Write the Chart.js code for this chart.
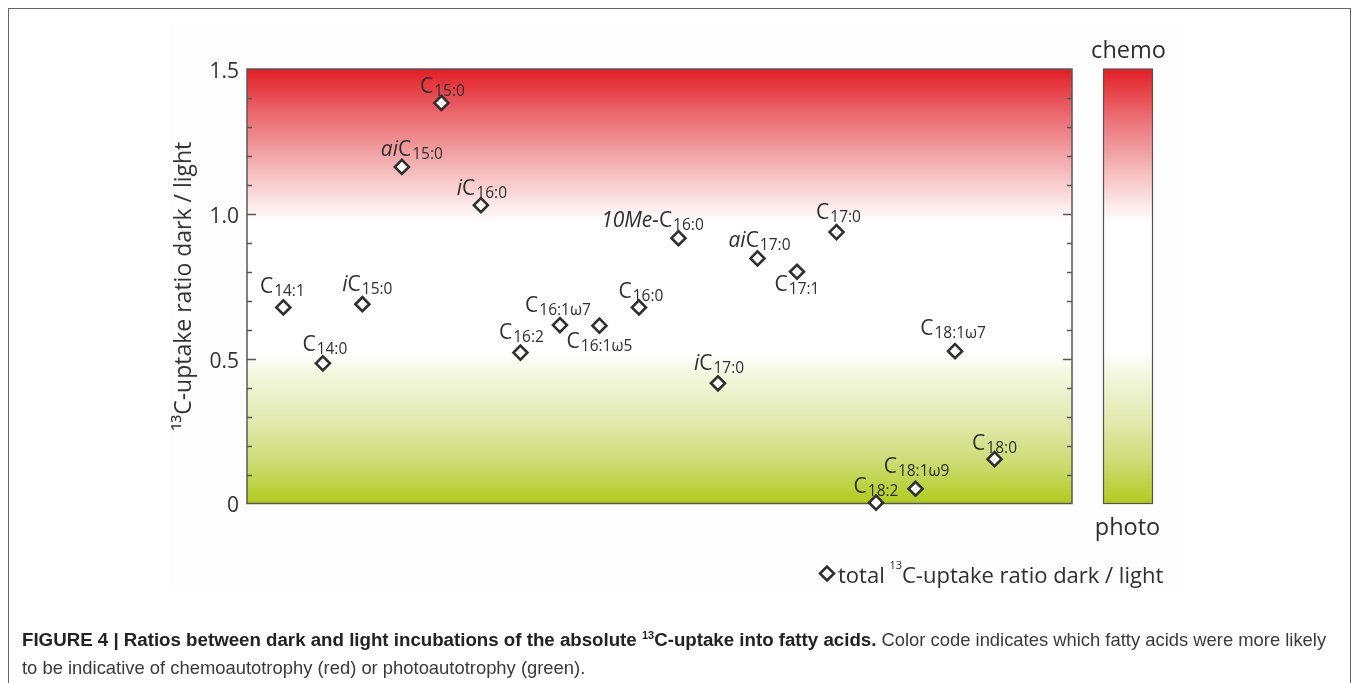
<!DOCTYPE html>
<html>
<head>
<meta charset="utf-8">
<script src="https://cdn.jsdelivr.net/npm/chart.js@4/dist/chart.umd.min.js"></script>
<style>
  html, body { margin: 0; padding: 0; background: #fff; width: 1357px; height: 683px; overflow: hidden; }
  #frame { position: absolute; left: 8px; top: 8px; width: 1343px; height: 720px; border: 1.5px solid #666; box-sizing: border-box; }
  #wrap { position: absolute; left: 0; top: 0; width: 1357px; height: 683px; }
  #caption { position: absolute; left: 22px; top: 627px; font-family: "Liberation Sans", Arial, sans-serif; font-size: 18.4px; line-height: 26px; color: #3a3a3a; white-space: nowrap; }
  #caption b { color: #222; font-size: 18.7px; }
  #caption .sup { font-size: 11px; position: relative; top: -7px; }
</style>
</head>
<body>
<div id="frame"></div>
<div id="wrap"><canvas id="chart"></canvas></div>
<div id="caption"><b>FIGURE 4 | Ratios between dark and light incubations of the absolute <span class="sup">13</span>C-uptake into fatty acids.</b> Color code indicates which fatty acids were more likely<br>to be indicative of chemoautotrophy (red) or photoautotrophy (green).</div>
<script>
// Fatty acids, in plotting order along the x axis
const acidPrefixes = ['', '', 'i', 'ai', '', 'i', '', '', '', '', '10Me-', 'i', 'ai', '', '', '', '', '', ''];
const acidChains   = ['14:1', '14:0', '15:0', '15:0', '15:0', '16:0', '16:2', '16:1ω7', '16:1ω5', '16:0',
                      '16:0', '17:0', '17:0', '17:1', '17:0', '18:2', '18:1ω9', '18:1ω7', '18:0'];
const acidOrder    = [1, 2, 3, 4, 5, 6, 7, 8, 9, 10, 11, 12, 13, 14, 15, 16, 17, 18, 19];

// Total 13C-uptake ratio dark / light for each fatty acid
const ratioDarkLight = [0.677, 0.484, 0.688, 1.162, 1.383, 1.030, 0.521, 0.616, 0.614, 0.677,
                        0.916, 0.415, 0.846, 0.800, 0.937, 0.003, 0.051, 0.526, 0.153];

// Labelled y ticks and minor tick spacing
const yTickValues = [0, 0.5, 1.0, 1.5];
const yMinorStep = 0.1;

// Where each name sits relative to its marker: [dx of text centre, dy of baseline]
const labelPlacement = [
  [-1, -14], [2, -12.5], [5, -13], [10, -11], [1, -9.5], [1, -10.5], [1, -13.5], [-2, -13.5],
  [0, 22.5], [2, -9], [-26, -11.5], [1, -13], [2, -11.5], [0, 19.5], [2, -13], [0, -10],
  [1, -15.5], [-2, -16], [0, -9]
];

const FONT = '"Open Sans", "Noto Sans", sans-serif';
const INK = '#2f2f2f';

// Colour ramp: green (photo) at 0, white in the middle band, red (chemo) at the top
const rampStops = [
  [0.00, '#b2ca1c'], [0.15, '#cedd78'], [0.30, '#e3ebb4'], [0.45, '#f4f7e0'], [0.52, '#ffffff'],
  [0.97, '#ffffff'], [1.05, '#fbe1e2'], [1.20, '#f2a6a9'], [1.35, '#ea666c'], [1.50, '#e31e25']
];

function rampGradient(ctx, yScale) {
  const y0 = yScale.getPixelForValue(0);
  const y1 = yScale.getPixelForValue(1.5);
  const g = ctx.createLinearGradient(0, y0, 0, y1);
  rampStops.forEach(([v, c]) => g.addColorStop(v / 1.5, c));
  return g;
}

const backdropPlugin = {
  id: 'backdrop',
  beforeDraw(chart) {
    const { ctx, chartArea: a, scales: { y } } = chart;
    ctx.save();
    ctx.fillStyle = '#fdfdfd';
    ctx.fillRect(169, 24, 1015, 566);
    // plot area ramp
    ctx.fillStyle = rampGradient(ctx, y);
    ctx.fillRect(a.left, a.top, a.right - a.left, a.bottom - a.top);
    // colour bar
    const barL = 1103, barR = 1152;
    ctx.fillRect(barL, a.top, barR - barL, a.bottom - a.top);
    ctx.strokeStyle = '#555';
    ctx.lineWidth = 1.2;
    ctx.strokeRect(barL + 0.5, a.top, barR - barL, a.bottom - a.top);
    ctx.fillStyle = INK;
    ctx.font = '23.5px ' + FONT;
    ctx.textAlign = 'center';
    ctx.textBaseline = 'alphabetic';
    ctx.fillText('chemo', (barL + barR) / 2 + 1, 58);
    ctx.fillText('photo', (barL + barR) / 2, 535);
    ctx.restore();
  },
  beforeDatasetsDraw(chart) {
    const { ctx, chartArea: a, scales: { y } } = chart;
    ctx.save();
    ctx.strokeStyle = '#585858';
    ctx.lineWidth = 1.5;
    ctx.strokeRect(a.left, a.top, a.right - a.left, a.bottom - a.top);
    // inward tick marks on both vertical sides
    ctx.lineWidth = 1.3;
    ctx.beginPath();
    const n = Math.round(1.5 / yMinorStep);
    for (let k = 1; k < n; k++) {
      const v = k * yMinorStep;
      const py = Math.round(y.getPixelForValue(v)) + 0.5;
      const major = yTickValues.some(t => Math.abs(t - v) < 1e-6);
      const len = major ? 9 : 5;
      ctx.moveTo(a.left, py); ctx.lineTo(a.left + len, py);
      ctx.moveTo(a.right, py); ctx.lineTo(a.right - len, py);
    }
    ctx.stroke();
    ctx.restore();
  },
  afterDatasetsDraw(chart) {
    const { ctx } = chart;
    const meta = chart.getDatasetMeta(0);
    const mainFont = '21px ' + FONT;
    const italFont = 'italic 21px ' + FONT;
    const subFont = '15.5px ' + FONT;
    ctx.save();
    ctx.fillStyle = INK;
    ctx.textBaseline = 'alphabetic';
    ctx.textAlign = 'left';
    meta.data.forEach((pt, i) => {
      const pre = acidPrefixes[i], sub = acidChains[i];
      ctx.font = italFont; const wPre = ctx.measureText(pre).width;
      ctx.font = mainFont; const wC = ctx.measureText('C').width;
      ctx.font = subFont; const wSub = ctx.measureText(sub).width;
      const total = wPre + wC + 1 + wSub;
      const [dx, dy] = labelPlacement[i];
      let x = pt.x + dx - total / 2;
      const base = pt.y + dy;
      ctx.font = italFont; ctx.fillText(pre, x, base); x += wPre;
      ctx.font = mainFont; ctx.fillText('C', x, base); x += wC + 1;
      ctx.font = subFont; ctx.fillText(sub, x, base + 3);
    });
    ctx.restore();
  },
  afterDraw(chart) {
    // series key
    const { ctx } = chart;
    ctx.save();
    ctx.strokeStyle = INK;
    ctx.fillStyle = '#fff';
    Chart.helpers.drawPoint(ctx, { pointStyle: 'rectRot', radius: 7, borderWidth: 2.6 }, 827, 573.5);
    ctx.fillStyle = INK;
    ctx.textBaseline = 'alphabetic';
    ctx.textAlign = 'left';
    let x = 838;
    const base = 582.5;
    ctx.font = '22px ' + FONT;
    ctx.fillText('total', x, base); x += ctx.measureText('total ').width;
    ctx.font = '11px ' + FONT;
    ctx.fillText('13', x - 1, base - 14); x += ctx.measureText('13').width - 1;
    ctx.font = '22px ' + FONT;
    ctx.fillText('C-uptake ratio dark / light', x, base);
    ctx.restore();
  }
};

Chart.defaults.font.family = FONT;

new Chart(document.getElementById('chart'), {
  type: 'scatter',
  data: {
    datasets: [{
      label: 'total 13C-uptake ratio dark / light',
      data: acidOrder.map((x, i) => ({ x, y: ratioDarkLight[i] })),
      pointStyle: 'rectRot',
      radius: 7,
      hoverRadius: 7,
      borderWidth: 2.6,
      borderColor: INK,
      backgroundColor: '#ffffff',
      clip: false
    }]
  },
  options: {
    responsive: true,
    maintainAspectRatio: false,
    animation: false,
    events: [],
    layout: { padding: { left: 0, top: 69, right: 285, bottom: 179.5 } },
    plugins: { legend: { display: false }, tooltip: { enabled: false } },
    scales: {
      x: { type: 'linear', display: false, min: 0.08, max: 20.96 },
      y: {
        type: 'linear',
        min: 0,
        max: 1.5,
        afterFit(scale) { scale.width = 247; },
        afterBuildTicks(scale) { scale.ticks = yTickValues.map(v => ({ value: v })); },
        ticks: {
          callback: v => (v === 0 ? '0' : v.toFixed(1)),
          font: { size: 21, family: FONT },
          color: '#333',
          padding: 8,
          labelOffset: 3
        },
        grid: { display: false, drawTicks: false },
        border: { display: false },
        title: {
          display: true,
          text: '¹³C-uptake ratio dark / light',
          font: { size: 23, family: FONT },
          color: '#333',
          padding: { top: 171, bottom: 0 }
        }
      }
    }
  },
  plugins: [backdropPlugin]
});
</script>
</body>
</html>
